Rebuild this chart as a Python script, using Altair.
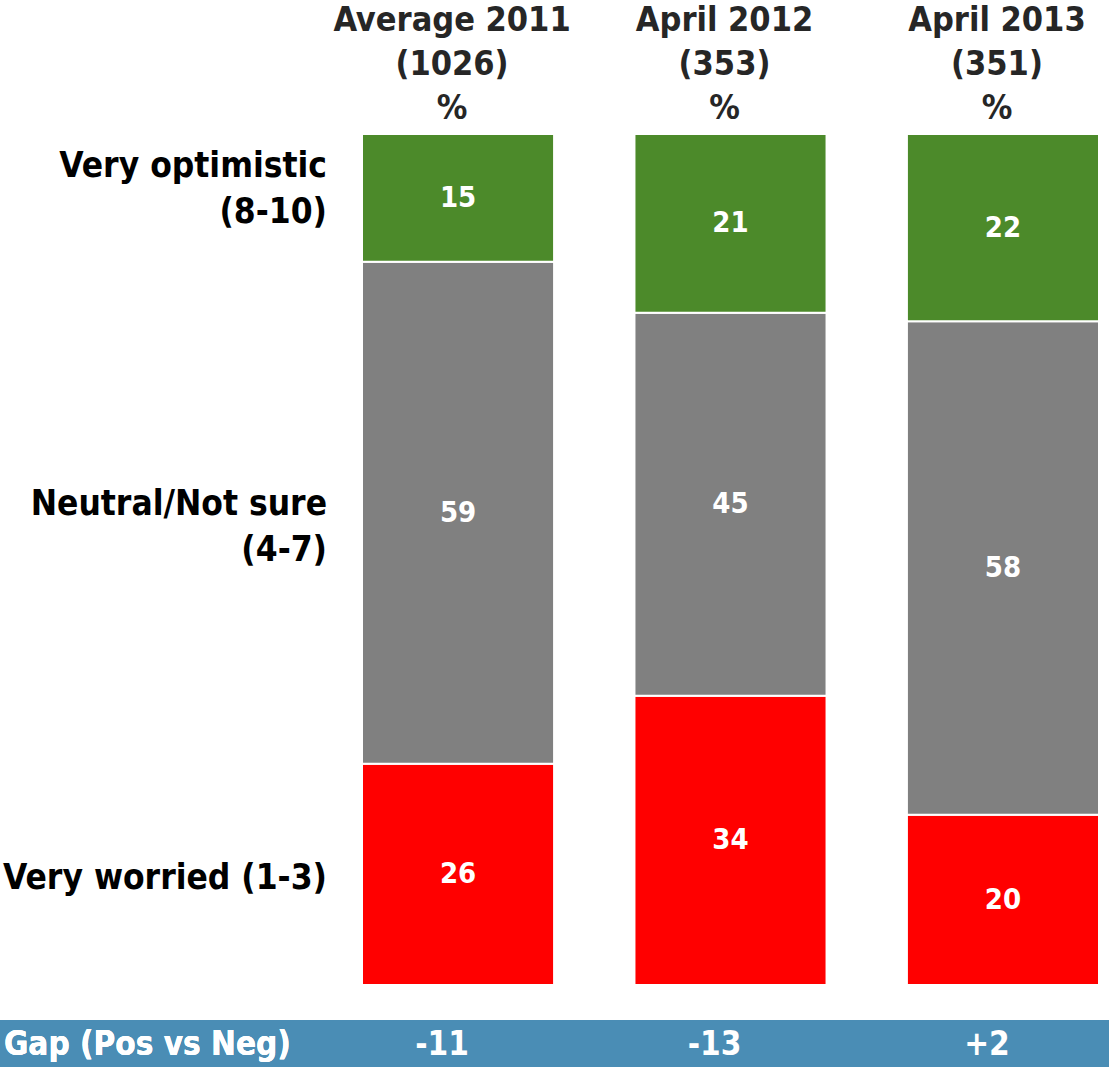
import altair as alt
import pandas as pd

# Survey waves and their base sizes
waves = ["Average 2011", "April 2012", "April 2013"]
bases = [1026, 353, 351]

# Share of respondents per rating band (%)
optimistic = [15, 21, 22]
neutral = [59, 45, 58]
worried = [26, 34, 20]

# Gap between positive and negative ratings
gaps = ["-11", "-13", "+2"]

bands = ["Very worried (1-3)", "Neutral/Not sure\n(4-7)", "Very optimistic\n(8-10)"]
band_colors = ["#FF0000", "#808080", "#4C8A2A"]

FONT = "DejaVu Sans Condensed"

rows = []
for i, w in enumerate(waves):
    base = 0
    for band, vals in zip(bands, [worried, neutral, optimistic]):
        v = vals[i]
        rows.append({"wave": w, "band": band, "value": v,
                     "y0": base, "y1": base + v, "mid": base + v / 2})
        base += v
df = pd.DataFrame(rows)

head_df = pd.DataFrame({
    "wave": waves,
    "head": [f"{w}\n({b})\n%" for w, b in zip(waves, bases)],
    "gap": gaps,
})
label_df = df[df["wave"] == waves[0]]

x_enc = alt.X("wave:N", sort=waves, axis=None,
              scale=alt.Scale(range=[362, 1099], paddingInner=0.295, paddingOuter=0))
y_scale = alt.Scale(domain=[0, 100], range=[985, 134])

bars = alt.Chart(df).mark_rect(stroke="white", strokeWidth=2).encode(
    x=x_enc,
    y=alt.Y("y0:Q", scale=y_scale, axis=None),
    y2="y1:Q",
    color=alt.Color("band:N", scale=alt.Scale(domain=bands, range=band_colors), legend=None),
)

values = alt.Chart(df).mark_text(
    font=FONT, fontWeight="bold", fontSize=29, color="white", baseline="middle"
).encode(
    x=x_enc,
    y=alt.Y("mid:Q", scale=y_scale, axis=None),
    text="value:Q",
)

headers = alt.Chart(head_df).mark_text(
    font=FONT, fontWeight="bold", fontSize=34, color="#262626",
    baseline="middle", lineBreak="\n", lineHeight=44, dx=-6,
).encode(
    x=x_enc,
    y=alt.value(21),
    text="head:N",
)


def row_label(band, dy):
    # one left-hand category label, placed at the first column's segment
    return alt.Chart(label_df).transform_filter(
        alt.datum.band == band
    ).mark_text(
        font=FONT, fontWeight="bold", fontSize=35, color="black",
        align="right", baseline="middle", lineBreak="\n", lineHeight=46, dy=dy,
    ).encode(
        x=alt.value(327),
        y=alt.Y("mid:Q", scale=y_scale, axis=None),
        text="band:N",
    )


row_labels = alt.layer(
    row_label(bands[2], -32),
    row_label(bands[1], -9),
    row_label(bands[0], 4),
)

gap_band = alt.Chart(head_df).mark_rect(color="#4A8DB5").encode(
    x=alt.value(0), x2=alt.value(1109), y=alt.value(1020), y2=alt.value(1067),
)

gap_title = alt.Chart(head_df).mark_text(
    font=FONT, fontWeight="bold", fontSize=33, color="white",
    align="left", baseline="middle",
).encode(
    x=alt.value(4), y=alt.value(1045), text=alt.value("Gap (Pos vs Neg)"),
)

gap_values = alt.Chart(head_df).mark_text(
    font=FONT, fontWeight="bold", fontSize=33, color="white",
    baseline="middle", dx=-16,
).encode(
    x=x_enc, y=alt.value(1045), text="gap:N",
)

chart = alt.layer(
    bars, values, headers, row_labels, gap_band, gap_title, gap_values
).properties(
    width=1109, height=1067,
    autosize=alt.AutoSizeParams(type="none"),
    padding=0,
).configure_view(stroke=None)

chart.save("out.html", embed_options={"renderer": "svg", "actions": False})
